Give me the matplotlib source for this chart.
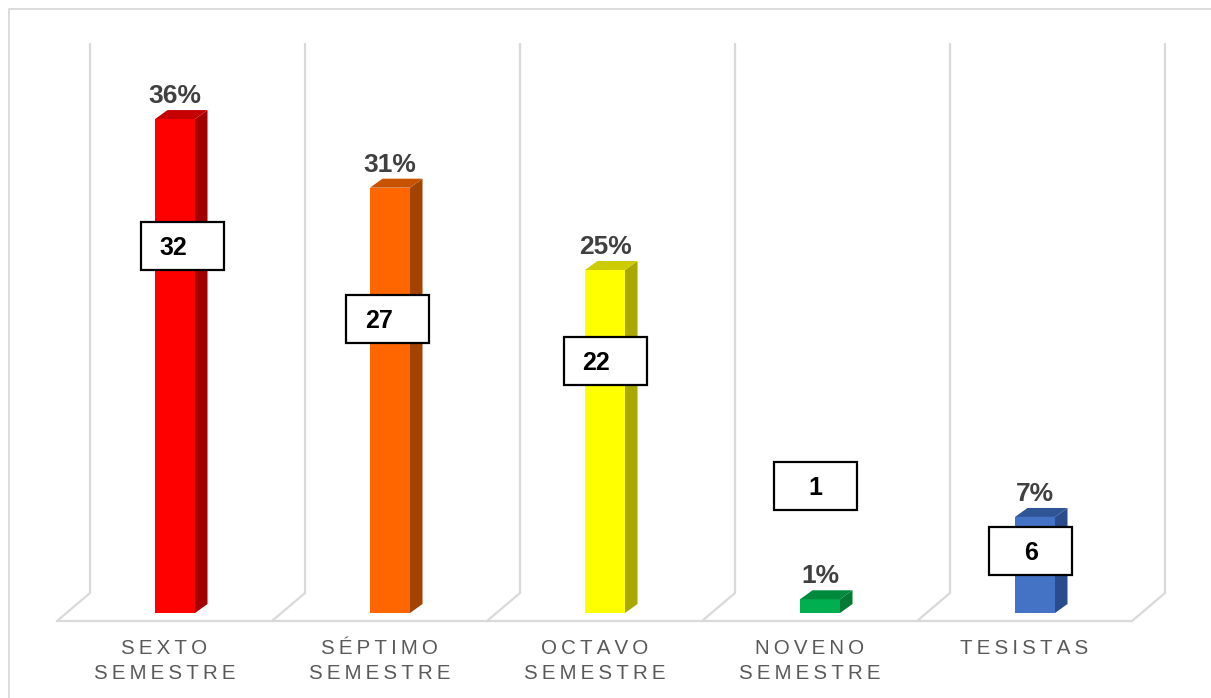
import matplotlib
matplotlib.use("Agg")
import matplotlib.pyplot as plt
import matplotlib.transforms as mtransforms
from matplotlib.patches import Polygon, Rectangle
from matplotlib.lines import Line2D

plt.rcParams["font.family"] = ["Liberation Sans", "DejaVu Sans"]

# ---- data ----
categories = ["SEXTO\nSEMESTRE", "SÉPTIMO\nSEMESTRE", "OCTAVO\nSEMESTRE",
              "NOVENO\nSEMESTRE", "TESISTAS"]
counts = [32, 27, 22, 1, 6]
percents = [36, 31, 25, 1, 7]

# ---- styling ----
front_colors = ["#FF0000", "#FF6600", "#FFFF00", "#00B050", "#4472C4"]
top_colors = ["#C40000", "#C95200", "#CCCC00", "#008A3E", "#2F5597"]
side_colors = ["#A30000", "#A34300", "#A8A800", "#007A35", "#2B4C8C"]

# count boxes: placement in data units, text nudge in pixels
count_box_x = [0.035, 0.99, 2.0, 2.98, 3.98]
count_box_y = [26.75, 21.43, 18.39, 9.27, 4.52]
count_text_dx = [-9, -9, -9, 0, 0]

Y_MAX = 40
GRID = "#D9D9D9"

W, H, DPI = 1211, 698, 100
fig = plt.figure(figsize=(W / DPI, H / DPI), dpi=DPI)
ax = fig.add_axes([0, 0, 1, 1])
xlim = (-0.814, 4.8186)
ylim = (-6.195, 44.679)
ax.set_xlim(*xlim)
ax.set_ylim(*ylim)
ax.axis("off")

px_x = W / (xlim[1] - xlim[0])   # pixels per category unit
px_y = H / (ylim[1] - ylim[0])   # pixels per percent

def pt(px):
    return px * 72.0 / DPI

# perspective offsets (in data units)
bar_w = 40 / px_x
bar_dx, bar_dy = 12.5 / px_x, 9 / px_y
back_dx, back_dy = 22.5 / px_x, 20 / px_y
front_dx, front_dy = -10.5 / px_x, -8 / px_y

xs = list(range(len(categories)))

# back wall grid lines and floor
for i in range(len(categories) + 1):
    k = i - 0.5
    ax.plot([k + front_dx, k + back_dx, k + back_dx],
            [front_dy, back_dy, Y_MAX + back_dy],
            color=GRID, lw=1.6, solid_joinstyle="miter", zorder=1)
ax.plot([-0.5 + front_dx, len(categories) - 0.5 + front_dx], [front_dy, front_dy],
        color=GRID, lw=1.6, solid_capstyle="butt", zorder=1)

# bars: front faces plus side and top faces
ax.bar(xs, percents, width=bar_w, color=front_colors, linewidth=0, zorder=3)
for x, h, sc, tc in zip(xs, percents, side_colors, top_colors):
    r = x + bar_w / 2
    l = x - bar_w / 2
    ax.add_patch(Polygon([(r, 0), (r + bar_dx, bar_dy), (r + bar_dx, h + bar_dy), (r, h)],
                         closed=True, fc=sc, ec="none", zorder=3))
    ax.add_patch(Polygon([(l, h), (r, h), (r + bar_dx, h + bar_dy), (l + bar_dx, h + bar_dy)],
                         closed=True, fc=tc, ec="none", zorder=3))

# percentage labels
for x, p in zip(xs, percents):
    ax.annotate(f"{p}%", xy=(x, p), xytext=(0, pt(16)), textcoords="offset points",
                ha="center", va="baseline", fontsize=19, fontweight="bold",
                color="#404040", zorder=6)

# count boxes
for c, bx, by, tdx in zip(counts, count_box_x, count_box_y, count_text_dx):
    trans = fig.dpi_scale_trans + mtransforms.ScaledTranslation(bx, by, ax.transData)
    ax.add_patch(Rectangle((-0.415, -0.24), 0.83, 0.48, transform=trans,
                           fc="white", ec="black", lw=1.6, zorder=5))
    ax.annotate(str(c), xy=(bx, by), xytext=(pt(tdx), pt(-9)),
                textcoords="offset points", ha="center", va="baseline",
                fontsize=18, fontweight="bold", color="black", zorder=6)

# category labels, letter-spaced, one text per line
for x, lab in zip(xs, categories):
    for j, line in enumerate(lab.split("\n")):
        ax.annotate("\u2009".join(line), xy=(x + front_dx, 0),
                    xytext=(0, pt(-40.5 - 25 * j)), textcoords="offset points",
                    ha="center", va="baseline", fontsize=14.8, color="#595959")

# chart area border
fig.add_artist(Line2D([8.5 / W, 8.5 / W, 1], [0, 1 - 9 / H, 1 - 9 / H],
                      transform=fig.transFigure, color=GRID, lw=1.3))

fig.savefig("out.png", dpi=DPI)
